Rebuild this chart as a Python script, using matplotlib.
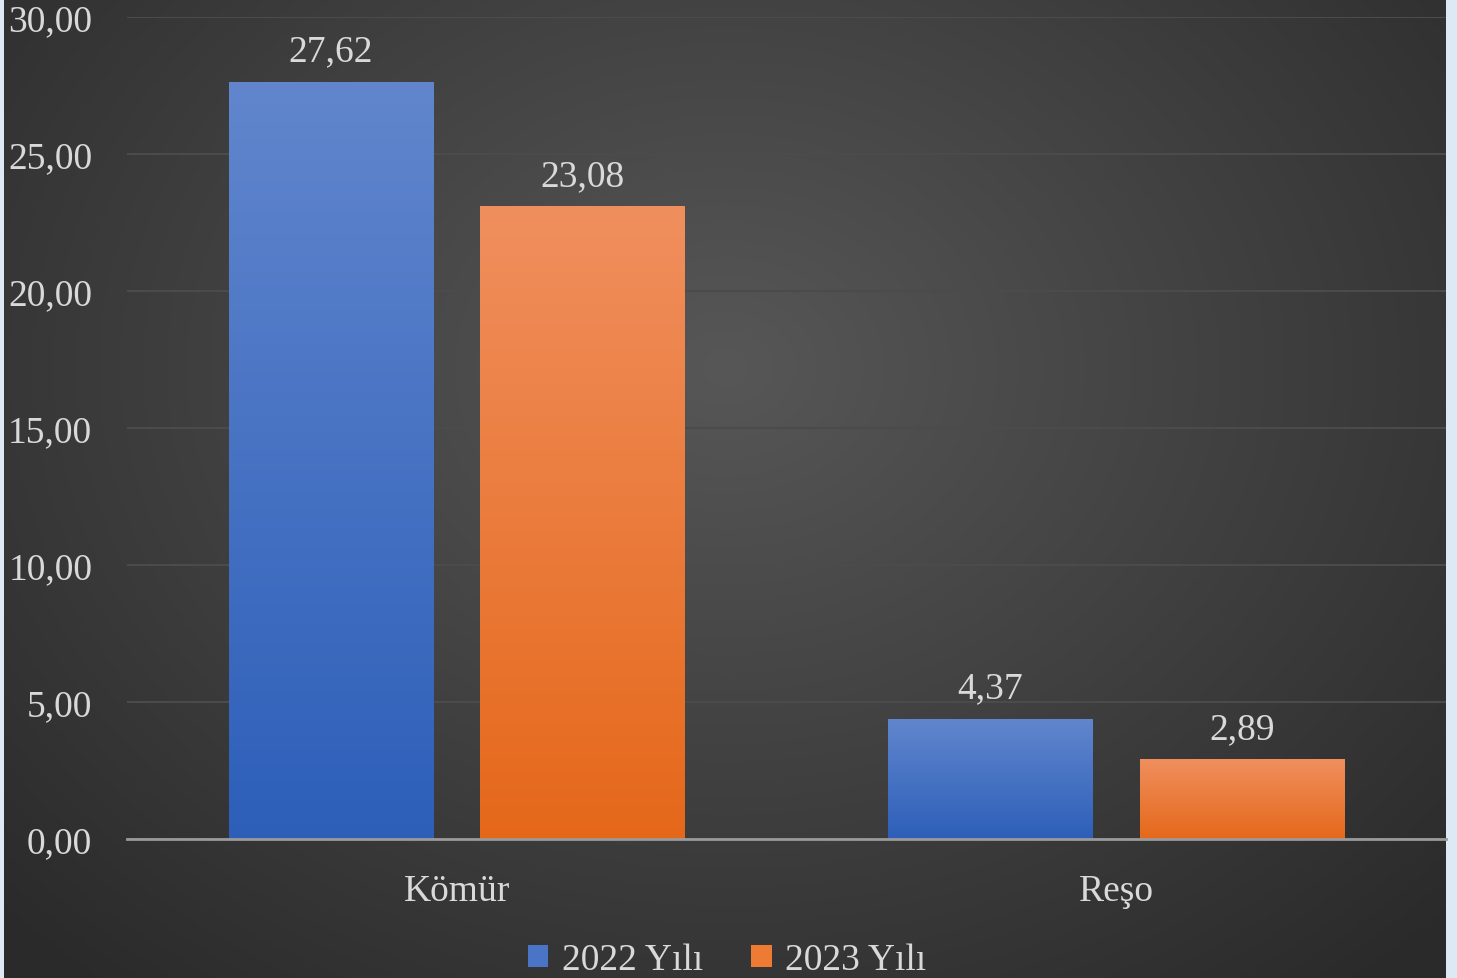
import numpy as np
import matplotlib.pyplot as plt
from matplotlib.colors import LinearSegmentedColormap
from matplotlib.patches import Patch

categories = ["Kömür", "Reşo"]
series_names = ["2022 Yılı", "2023 Yılı"]
values_2022 = [27.62, 4.37]
values_2023 = [23.08, 2.89]
yticks = [0, 5, 10, 15, 20, 25, 30]

plt.rcParams['font.family'] = ['Liberation Serif', 'DejaVu Serif']
txt = '#d9d9d9'
fs = 27

W, H = 1457, 979
fig = plt.figure(figsize=(W / 100, H / 100), dpi=100)
fig.patch.set_facecolor('#dde9f5')

# radial gradient background
bg = fig.add_axes([4 / W, 0, (1446 - 4) / W, 1])
bg.set_axis_off()
yy, xx = np.mgrid[0:400, 0:600]
r = np.sqrt(((xx - 300) / 420) ** 2 + ((yy - 150) / 330) ** 2)
r = np.clip(r, 0, 1)
bg_cmap = LinearSegmentedColormap.from_list('bg', ['#575757', '#2a2a2a'])
bg.imshow(r, cmap=bg_cmap, aspect='auto', extent=[0, 1, 0, 1], origin='upper')
bg.set_xlim(0, 1)
bg.set_ylim(0, 1)

ax = fig.add_axes([127 / W, (H - 840) / H, (1446 - 127) / W, (840 - 18) / H])
ax.patch.set_alpha(0)

blue = LinearSegmentedColormap.from_list('b', ['#2d5fb9', '#6186cd'])
orange = LinearSegmentedColormap.from_list('o', ['#e5681a', '#f08f5e'])
grad = np.linspace(0, 1, 256).reshape(-1, 1)

x = np.arange(len(categories))
width = 0.31
off = 0.191
for vals, cmap, dx in [(values_2022, blue, -off), (values_2023, orange, off)]:
    for xi, v in zip(x, vals):
        ax.imshow(grad, cmap=cmap, origin='lower', aspect='auto',
                  extent=[xi + dx - width / 2, xi + dx + width / 2, 0, v], zorder=3)
        ax.annotate(f"{v:.2f}".replace('.', ','), (xi + dx, v), xytext=(0, 10),
                    textcoords='offset points', ha='center', va='bottom',
                    color=txt, fontsize=fs)

ax.set_xlim(-0.5, 1.5)
ax.set_ylim(0, 30)
ax.set_yticks(yticks)
ax.set_yticklabels([f"{t:.2f}".replace('.', ',') for t in yticks])
ax.set_xticks(x)
ax.set_xticklabels(categories)
ax.tick_params(axis='y', length=0, pad=25, labelsize=fs, labelcolor=txt)
ax.tick_params(axis='x', length=0, pad=25, labelsize=fs, labelcolor=txt)
ax.grid(axis='y', color='#4b4b4b', linewidth=1.5, zorder=0)
ax.set_axisbelow(True)
for s in ['top', 'right', 'left']:
    ax.spines[s].set_visible(False)
ax.spines['bottom'].set_color('#9a9a9a')
ax.spines['bottom'].set_linewidth(2)
ax.spines['bottom'].set_zorder(4)

handles = [Patch(facecolor='#4a74c6', label=series_names[0]),
           Patch(facecolor='#ee7b34', label=series_names[1])]
fig.legend(handles=handles, loc='center', bbox_to_anchor=(727 / W, (H - 961) / H),
           ncol=2, frameon=False, fontsize=fs, labelcolor=txt,
           handlelength=0.55, handleheight=0.55, handletextpad=0.35, columnspacing=1.3)

fig.savefig('out.png', dpi=100, facecolor=fig.get_facecolor())
